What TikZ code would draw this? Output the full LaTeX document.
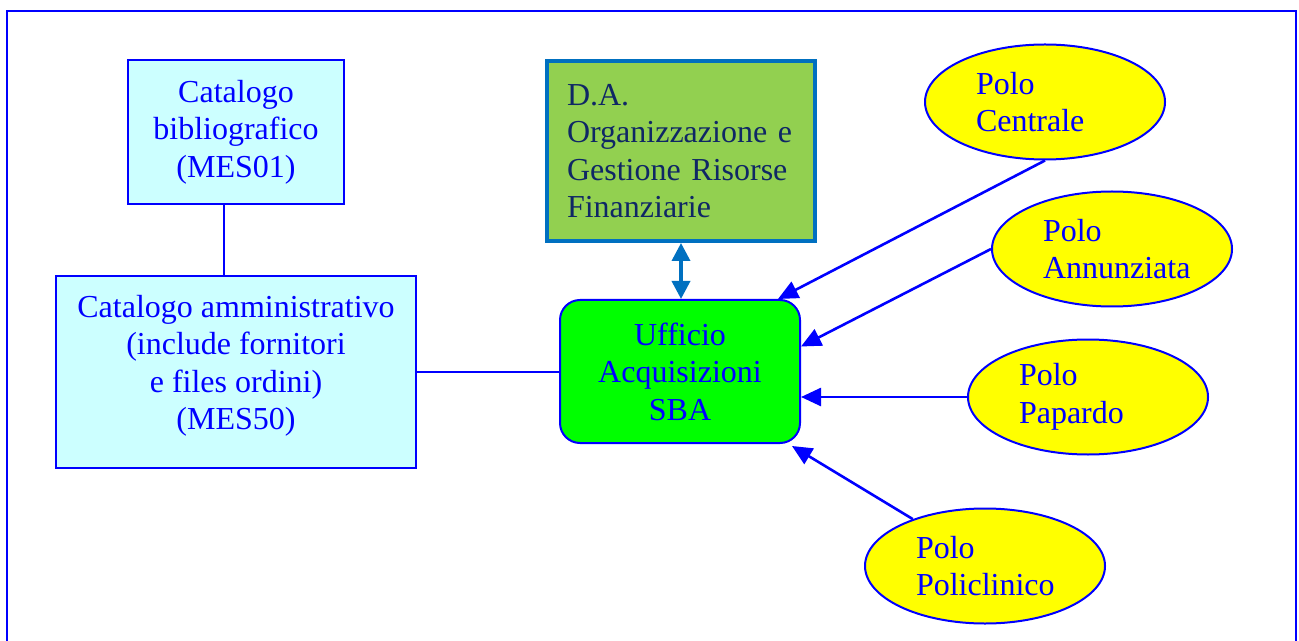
\documentclass[tikz,border=0pt]{standalone}
\usepackage{fontspec}
\setmainfont{Liberation Serif}
\definecolor{BluUfficio}{HTML}{0000FF}
\definecolor{AzzurroCatalogo}{HTML}{CCFFFF}
\definecolor{VerdeUfficio}{HTML}{00FF00}
\definecolor{VerdeDA}{HTML}{92D050}
\definecolor{BluDA}{HTML}{0070C0}
\definecolor{TestoDA}{HTML}{0F2765}
\definecolor{GialloPolo}{HTML}{FFFF00}
\usetikzlibrary{shapes.geometric,arrows.meta,positioning}
\tikzset{
	testo/.style={font=\fontsize{16}{18.7}\selectfont, align=center, text=BluUfficio},
	catalogo/.style={testo, draw=BluUfficio, line width=0.9pt, fill=AzzurroCatalogo, inner sep=0pt},
	ufficio/.style={testo, draw=BluUfficio, line width=1pt, fill=VerdeUfficio, rounded corners=10pt, inner sep=0pt},
	direzione/.style={testo, align=left, text=TestoDA, draw=BluDA, line width=2pt, fill=VerdeDA, inner sep=0pt},
	polo/.style={testo, align=left, ellipse, draw=BluUfficio, line width=1pt, fill=GialloPolo,
		minimum width=120pt, minimum height=57.5pt, inner sep=0pt, text width=69pt},
	freccia/.style={draw=BluUfficio, line width=1.3pt, arrows={-Triangle[length=10pt, width=9pt]}}
}
\begin{document}
\begin{tikzpicture}[x=0.5pt, y=-0.5pt]
    \useasboundingbox (0,0) rectangle (1299,641);
    % cornice esterna
    \draw[BluUfficio, line width=1.1pt] (7,660) -- (7,11) -- (1296,11) -- (1296,660);

    % cataloghi
    \node[catalogo, minimum width=108pt, minimum height=72pt] (bibl) at (236,132)
        {Catalogo\\ bibliografico\\ (MES01)};
    \node[catalogo, minimum width=180pt, minimum height=96pt] (ammin) at (236,372)
        {Catalogo amministrativo\\ (include fornitori\\ e files ordini)\\ (MES50)\\[-9pt]};

    % ufficio e direzione
    \node[ufficio, minimum width=120pt, minimum height=71.5pt] (uff) at (680,371.5)
        {Ufficio\\ Acquisizioni\\ SBA};
    \node[direzione, minimum width=134pt, minimum height=90pt, text width=114pt] (dag) at (681,151)
        {D.A.\\ Organizzazione e\\ Gestione Risorse\\ Finanziarie\\[-15pt]};

    % poli
    \node[polo] (centrale) at (1045,102) {Polo\\ Centrale};
    \node[polo] (annunz) at (1112,249) {Polo\\ Annunziata};
    \node[polo] (papardo) at (1088,397) {Polo\\ Papardo};
    \node[polo] (policl) at (985,566) {Polo\\ Policlinico};

    % collegamenti
    \draw[BluUfficio, line width=0.9pt] ([xshift=-6pt]bibl.south) -- ([xshift=-6pt]bibl.south |- ammin.north);
    \draw[BluUfficio, line width=0.9pt] (ammin.east) -- (ammin.east -| uff.west);
    \draw[BluDA, line width=1.8pt, arrows={Triangle[length=9pt, width=9pt]-Triangle[length=9pt, width=9pt]}]
        (dag.south) -- (dag.south |- uff.north);

    \draw[freccia] (centrale.south) -- ([xshift=-11.5pt]uff.north east);
    \draw[freccia] (annunz.west) -- ([yshift=12.5pt]uff.east);
    \draw[freccia] (papardo.west) -- (papardo.west -| uff.east);
    \draw[freccia] (policl.147) -- ([xshift=-4.5pt,yshift=-1pt]uff.south east);
\end{tikzpicture}
\end{document}
